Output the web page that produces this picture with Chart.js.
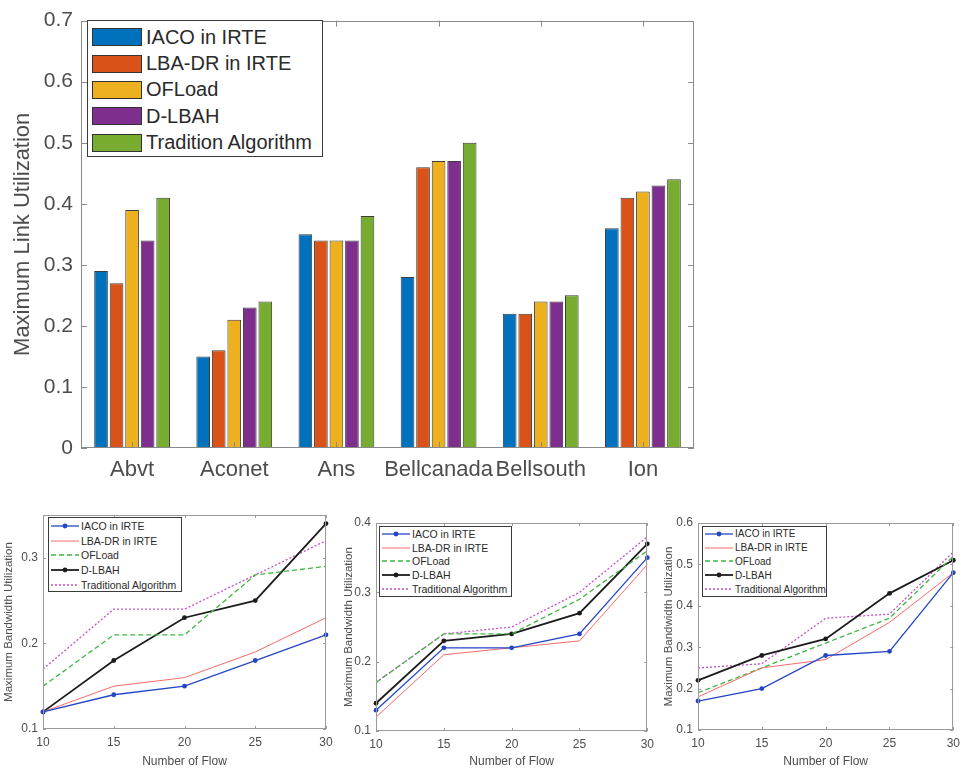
<!DOCTYPE html>
<html>
<head>
<meta charset="utf-8">
<script src="https://cdn.jsdelivr.net/npm/chart.js@4.4.1/dist/chart.umd.min.js"></script>
<style>
  body { margin: 0; background: #fff; font-family: "Liberation Sans", Arial, sans-serif; }
  .box { position: absolute; }
  .legend { position: absolute; background: #fff; border: 1px solid #3a3a3a; box-sizing: border-box; color: #2a2a2a; }
  .legend .row { display: flex; align-items: center; white-space: nowrap; }
  .swatch { border: 1px solid #333; box-sizing: border-box; }
</style>
</head>
<body>
<div class="box" style="left:0;top:0;width:710px;height:500px"><canvas id="bars" width="710" height="500"></canvas></div>
<div class="box" style="left:0;top:500px;width:340px;height:269px"><canvas id="flow1" width="340" height="269"></canvas></div>
<div class="box" style="left:340px;top:500px;width:320px;height:269px"><canvas id="flow2" width="320" height="269"></canvas></div>
<div class="box" style="left:660px;top:500px;width:306px;height:269px"><canvas id="flow3" width="306" height="269"></canvas></div>
<div id="legBars" class="legend" style="left:87px;top:20px;width:236px;height:137px;padding:3px 0 0 4px"></div>
<div id="leg1" class="legend" style="left:48px;top:517px;width:134px;height:75px;padding:1px 0 0 2px"></div>
<div id="leg2" class="legend" style="left:379px;top:526px;width:133px;height:71px;padding:0 0 0 2px"></div>
<div id="leg3" class="legend" style="left:702px;top:526px;width:125px;height:71px;padding:0 0 0 2px"></div>
<script>
// top bar chart
var networks = ['Abvt', 'Aconet', 'Ans', 'Bellcanada', 'Bellsouth', 'Ion'];
var barNames = ['IACO in IRTE', 'LBA-DR in IRTE', 'OFLoad', 'D-LBAH', 'Tradition Algorithm'];
var barColors = ['#0072BD', '#D95319', '#EDB120', '#7E2F8E', '#77AC30'];
var iacoBars = [0.29, 0.15, 0.35, 0.28, 0.22, 0.36];
var lbaBars = [0.27, 0.16, 0.34, 0.46, 0.22, 0.41];
var ofloadBars = [0.39, 0.21, 0.34, 0.47, 0.24, 0.42];
var dlbahBars = [0.34, 0.23, 0.34, 0.47, 0.24, 0.43];
var tradBars = [0.41, 0.24, 0.38, 0.50, 0.25, 0.44];

// bottom line charts
var flows = [10, 15, 20, 25, 30];
var lineNames = ['IACO in IRTE', 'LBA-DR in IRTE', 'OFLoad', 'D-LBAH', 'Traditional Algorithm'];
var flow1 = {
    iaco: [0.12, 0.14, 0.15, 0.18, 0.21],
    lba: [0.12, 0.15, 0.16, 0.19, 0.23],
    ofload: [0.15, 0.21, 0.21, 0.28, 0.29],
    dlbah: [0.12, 0.18, 0.23, 0.25, 0.34],
    trad: [0.17, 0.24, 0.24, 0.28, 0.32]
};
var flow2 = {
    iaco: [0.13, 0.22, 0.22, 0.24, 0.35],
    lba: [0.12, 0.21, 0.22, 0.23, 0.34],
    ofload: [0.17, 0.24, 0.24, 0.29, 0.36],
    dlbah: [0.14, 0.23, 0.24, 0.27, 0.37],
    trad: [0.17, 0.24, 0.25, 0.30, 0.38]
};
var flow3 = {
    iaco: [0.17, 0.20, 0.28, 0.29, 0.48],
    lba: [0.18, 0.25, 0.27, 0.36, 0.48],
    ofload: [0.19, 0.25, 0.31, 0.37, 0.52],
    dlbah: [0.22, 0.28, 0.32, 0.43, 0.51],
    trad: [0.25, 0.26, 0.37, 0.38, 0.53]
};

var tickColor = '#4d4d4d';
var font = '"Liberation Sans", Arial, sans-serif';

// matlab style box with inward ticks
var framePlugin = {
    id: 'frame',
    afterDraw: function (chart, args, opts) {
        var ctx = chart.ctx, a = chart.chartArea;
        var x = chart.scales.x, y = chart.scales.y;
        var len = opts.len || 5;
        ctx.save();
        ctx.strokeStyle = opts.color || '#888';
        ctx.lineWidth = 1;
        ctx.strokeRect(Math.round(a.left) + 0.5, Math.round(a.top) + 0.5,
            Math.round(a.right - a.left) - 1, Math.round(a.bottom - a.top) - 1);
        ctx.beginPath();
        x.ticks.forEach(function (t, i) {
            var px = Math.round(x.getPixelForTick(i)) + 0.5;
            ctx.moveTo(px, a.bottom); ctx.lineTo(px, a.bottom - len);
            ctx.moveTo(px, a.top); ctx.lineTo(px, a.top + len);
        });
        y.ticks.forEach(function (t, i) {
            var py = Math.round(y.getPixelForTick(i)) + 0.5;
            ctx.moveTo(a.left, py); ctx.lineTo(a.left + len, py);
            ctx.moveTo(a.right, py); ctx.lineTo(a.right - len, py);
        });
        ctx.stroke();
        ctx.restore();
    }
};

var barSeries = [iacoBars, lbaBars, ofloadBars, dlbahBars, tradBars];

new Chart(document.getElementById('bars').getContext('2d'), {
    type: 'bar',
    data: {
        labels: networks,
        datasets: barSeries.map(function (vals, i) {
            return {
                label: barNames[i],
                data: vals,
                backgroundColor: barColors[i],
                borderColor: '#3c3c3c',
                borderWidth: 1,
                categoryPercentage: 0.76,
                barPercentage: 0.88
            };
        })
    },
    options: {
        responsive: false,
        animation: false,
        devicePixelRatio: 1,
        layout: { padding: { top: 14, right: 16, left: 0, bottom: 0 } },
        plugins: { legend: { display: false }, tooltip: { enabled: false }, frame: { len: 6, color: '#8a8a8a' } },
        scales: {
            x: {
                grid: { display: false, drawTicks: false },
                border: { display: false },
                ticks: { color: tickColor, font: { family: font, size: 22 }, padding: 9, maxRotation: 0, autoSkip: false },
                afterFit: function (s) { s.height = 52; }
            },
            y: {
                min: 0, max: 0.7,
                grid: { display: false, drawTicks: false },
                border: { display: false },
                ticks: { stepSize: 0.1, color: tickColor, font: { family: font, size: 21 }, padding: 8 },
                title: { display: true, text: 'Maximum Link Utilization', color: tickColor, font: { family: font, size: 22 }, padding: { top: 10, bottom: 0 } },
                afterFit: function (s) { s.width = 81; }
            }
        }
    },
    plugins: [framePlugin]
});

var lineStyles = [
    { key: 'iaco', color: '#2446c4', width: 1.3, dash: [], point: 2.4 },
    { key: 'lba', color: '#f46a6a', width: 1, dash: [], point: 0 },
    { key: 'ofload', color: '#3fb53f', width: 1.3, dash: [5, 3], point: 0 },
    { key: 'dlbah', color: '#1c1c1c', width: 1.8, dash: [], point: 2.4 },
    { key: 'trad', color: '#c94fc9', width: 1.3, dash: [2, 2], point: 0 }
];

function flowChart(id, series, yMax, pad, yWidth, xHeight) {
    new Chart(document.getElementById(id).getContext('2d'), {
        type: 'line',
        data: {
            labels: flows,
            datasets: lineStyles.map(function (st, i) {
                return {
                    label: lineNames[i],
                    data: series[st.key],
                    borderColor: st.color,
                    backgroundColor: st.color,
                    borderWidth: st.width,
                    borderDash: st.dash,
                    pointRadius: st.point,
                    pointBorderWidth: 0,
                    tension: 0,
                    fill: false
                };
            })
        },
        options: {
            responsive: false,
            animation: false,
            devicePixelRatio: 1,
            layout: { padding: pad },
            plugins: { legend: { display: false }, tooltip: { enabled: false }, frame: { len: 3, color: '#9a9a9a' } },
            scales: {
                x: {
                    grid: { display: false, drawTicks: false },
                    border: { display: false },
                    ticks: { color: tickColor, font: { family: font, size: 12 }, padding: 6, maxRotation: 0 },
                    title: { display: true, text: 'Number of Flow', color: tickColor, font: { family: font, size: 12 }, padding: { top: 2, bottom: 0 } },
                    afterFit: function (s) { s.height = xHeight; }
                },
                y: {
                    min: 0.1, max: yMax,
                    grid: { display: false, drawTicks: false },
                    border: { display: false },
                    ticks: { stepSize: 0.1, color: tickColor, font: { family: font, size: 12 }, padding: 5 },
                    afterBuildTicks: function (s) {
                        s.ticks = s.ticks.filter(function (t) {
                            return Math.abs(t.value * 10 - Math.round(t.value * 10)) < 1e-6;
                        });
                    },
                    title: { display: true, text: 'Maximum Bandwidth Utilization', color: tickColor, font: { family: font, size: 11.5 }, padding: { top: 2, bottom: 0 } },
                    afterFit: function (s) { s.width = yWidth; }
                }
            }
        },
        plugins: [framePlugin]
    });
}

flowChart('flow1', flow1, 0.35, { top: 15, right: 14, left: 0, bottom: 0 }, 43, 40);
flowChart('flow2', flow2, 0.4, { top: 23, right: 8, left: 0, bottom: 0 }, 36, 38);
flowChart('flow3', flow3, 0.6, { top: 23, right: 6, left: 0, bottom: 0 }, 38, 39);

// legends
var legBars = document.getElementById('legBars');
barNames.forEach(function (name, i) {
    var row = document.createElement('div');
    row.className = 'row';
    row.style.height = '26.4px';
    row.style.font = '20px ' + font;
    row.innerHTML = '<span class="swatch" style="display:inline-block;width:50px;height:18px;background:' +
        barColors[i] + ';margin-right:4px"></span>' + name;
    legBars.appendChild(row);
});

function lineLegend(id, rowH, size) {
    var el = document.getElementById(id);
    lineStyles.forEach(function (st, i) {
        var row = document.createElement('div');
        row.className = 'row';
        row.style.height = rowH + 'px';
        row.style.font = size + 'px ' + font;
        var dash = st.dash.length ? ' stroke-dasharray="' + st.dash.join(',') + '"' : '';
        var dot = st.point ? '<circle cx="14" cy="4" r="2.4" fill="' + st.color + '"/>' : '';
        row.innerHTML = '<svg width="28" height="8" style="margin-right:2px"><line x1="0" y1="4" x2="28" y2="4" stroke="' +
            st.color + '" stroke-width="' + st.width + '"' + dash + '/>' + dot + '</svg>' + lineNames[i];
        el.appendChild(row);
    });
}
lineLegend('leg1', 14.6, 10.5);
lineLegend('leg2', 13.8, 10.5);
lineLegend('leg3', 13.8, 10);
</script>
</body>
</html>
